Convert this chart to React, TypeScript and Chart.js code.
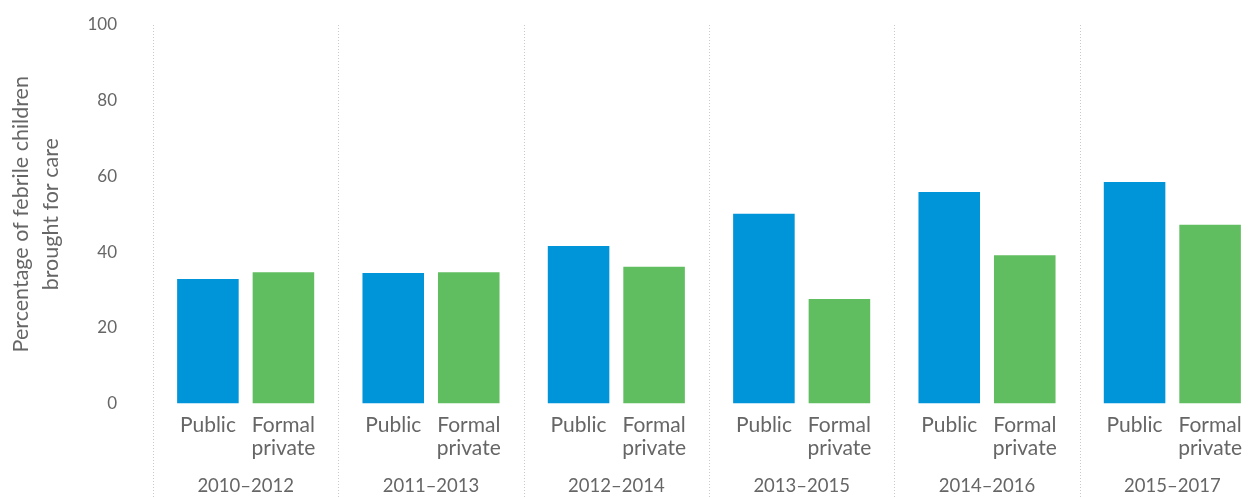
import React, { useEffect, useRef } from 'react';
import { Chart, registerables } from 'chart.js';

Chart.register(...registerables);

const periods = ['2010–2012', '2011–2013', '2012–2014', '2013–2015', '2014–2016', '2015–2017'];
const seriesNames = ['Public', 'Formal private'];
const seriesSubLabels = [['Public'], ['Formal', 'private']];
const publicValues = [32.9, 34.5, 41.6, 50.1, 55.9, 58.5];
const formalPrivateValues = [34.7, 34.7, 36.1, 27.6, 39.2, 47.2];
const seriesColors = ['#0095d9', '#60be60'];
const yMin = 0;
const yMax = 100;
const yStep = 20;
const yTitle = ['Percentage of febrile children', 'brought for care'];

const FONT = 'Lato, "Noto Sans", sans-serif';
const TEXT = '#666666';

const groupPlugin = {
  id: 'groupPlugin',
  beforeDatasetsDraw(chart: any) {
    const { ctx, chartArea, scales } = chart;
    const x = scales.x;
    const n = chart.data.labels.length;
    const w = (x.right - x.left) / n;
    ctx.save();
    ctx.strokeStyle = '#c9c9c9';
    ctx.lineWidth = 1;
    ctx.setLineDash([1, 2]);
    for (let i = 0; i <= n; i++) {
      const px = Math.round(x.left + i * w) + 0.5;
      ctx.beginPath();
      ctx.moveTo(px, chartArea.top);
      ctx.lineTo(px, chart.height);
      ctx.stroke();
    }
    ctx.restore();
  },
  afterDatasetsDraw(chart: any) {
    const { ctx, chartArea } = chart;
    ctx.save();
    ctx.fillStyle = TEXT;
    ctx.font = `21px ${FONT}`;
    ctx.textAlign = 'center';
    ctx.textBaseline = 'alphabetic';
    chart.data.datasets.forEach((_ds: any, d: number) => {
      const meta = chart.getDatasetMeta(d);
      const lines = seriesSubLabels[d];
      meta.data.forEach((el: any) => {
        lines.forEach((t: string, k: number) => {
          ctx.fillText(t, el.x, chartArea.bottom + 28 + k * 23.5);
        });
      });
    });
    ctx.restore();
  },
};

export default function App() {
  const ref = useRef<HTMLCanvasElement>(null);
  useEffect(() => {
    if (!ref.current) return;
    const chart = new Chart(ref.current, {
      type: 'bar',
      data: {
        labels: periods,
        datasets: [
          { label: seriesNames[0], data: publicValues, backgroundColor: seriesColors[0] },
          { label: seriesNames[1], data: formalPrivateValues, backgroundColor: seriesColors[1] },
        ],
      },
      options: {
        responsive: false,
        animation: false,
        events: [],
        datasets: { bar: { categoryPercentage: 0.815, barPercentage: 0.815 } },
        layout: { padding: { top: 25, left: 0, right: 0, bottom: 0 } },
        plugins: { legend: { display: false }, tooltip: { enabled: false } },
        scales: {
          x: {
            grid: { display: false, drawTicks: false },
            border: { display: false },
            ticks: { font: { size: 18.5, family: FONT }, color: TEXT, padding: 71 },
            afterFit(s: any) {
              s.height = 93.5;
              s.paddingLeft = 0;
              s.paddingRight = 0;
            },
          },
          y: {
            min: yMin,
            max: yMax,
            grid: { display: false, drawTicks: false },
            border: { display: false },
            ticks: { stepSize: yStep, font: { size: 17, family: FONT }, color: TEXT, padding: 36 },
            title: {
              display: true,
              text: yTitle,
              font: { size: 21.5, family: FONT, lineHeight: 1.4 },
              color: TEXT,
              padding: { top: 6, bottom: 0 },
            },
            afterFit(s: any) {
              s.width = 153;
              s.paddingTop = 0;
              s.paddingBottom = 0;
            },
          },
        },
      },
      plugins: [groupPlugin],
    } as any);
    return () => chart.destroy();
  }, []);
  return (
    <div style={{ position: 'fixed', left: 0, top: 0, width: 1255, height: 497, overflow: 'hidden', background: '#fff' }}>
      <canvas ref={ref} width={1265} height={497} style={{ display: 'block' }} />
    </div>
  );
}
